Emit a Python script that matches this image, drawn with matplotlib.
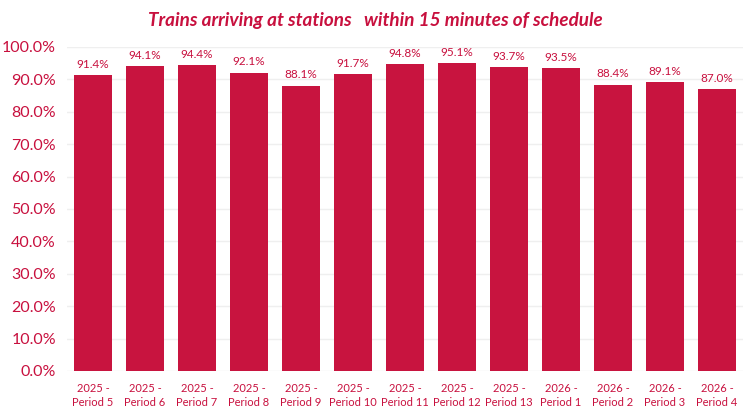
import matplotlib
matplotlib.use('Agg')
import matplotlib.pyplot as plt
from matplotlib.ticker import PercentFormatter

# data
periods = ['2025 -\nPeriod 5', '2025 -\nPeriod 6', '2025 -\nPeriod 7', '2025 -\nPeriod 8',
           '2025 -\nPeriod 9', '2025 -\nPeriod 10', '2025 -\nPeriod 11', '2025 -\nPeriod 12',
           '2025 -\nPeriod 13', '2026 -\nPeriod 1', '2026 -\nPeriod 2', '2026 -\nPeriod 3',
           '2026 -\nPeriod 4']
on_time = [91.4, 94.1, 94.4, 92.1, 88.1, 91.7, 94.8, 95.1, 93.7, 93.5, 88.4, 89.1, 87.0]
y_ticks = [0, 10, 20, 30, 40, 50, 60, 70, 80, 90, 100]

RED = '#C8143F'
TXT = '#C8103E'

plt.rcParams['font.family'] = ['Lato', 'DejaVu Sans']

fig = plt.figure(figsize=(7.51, 4.09), dpi=100)
ax = fig.add_axes([67 / 751, 38 / 409, 676 / 751, 324 / 409])

x = list(range(len(periods)))
ax.bar(x, on_time, width=0.74, color=RED, zorder=3)
for xi, v in zip(x, on_time):
    ax.text(xi, v + 1.6, f'{v:.1f}%', ha='center', va='bottom', fontsize=8.5, color=TXT)

ax.set_xlim(-0.5, len(periods) - 0.5)
ax.set_ylim(0, 100)
ax.set_yticks(y_ticks)
ax.yaxis.set_major_formatter(PercentFormatter(decimals=1))
ax.set_xticks(x)
ax.set_xticklabels(periods, fontsize=8, color=TXT, linespacing=1.3)
ax.tick_params(axis='y', labelsize=11.5, labelcolor=TXT, length=0, pad=8)
ax.tick_params(axis='x', length=0, pad=9)
ax.grid(axis='y', color='#EFEFEF', linewidth=1, zorder=0)
for s in ax.spines.values():
    s.set_visible(False)

fig.text(0.5, 0.951, 'Trains arriving at stations   within 15 minutes of schedule',
         ha='center', va='center', fontsize=13.6, fontstyle='italic', fontweight='bold', color=TXT)

fig.savefig('out.png', dpi=100)
